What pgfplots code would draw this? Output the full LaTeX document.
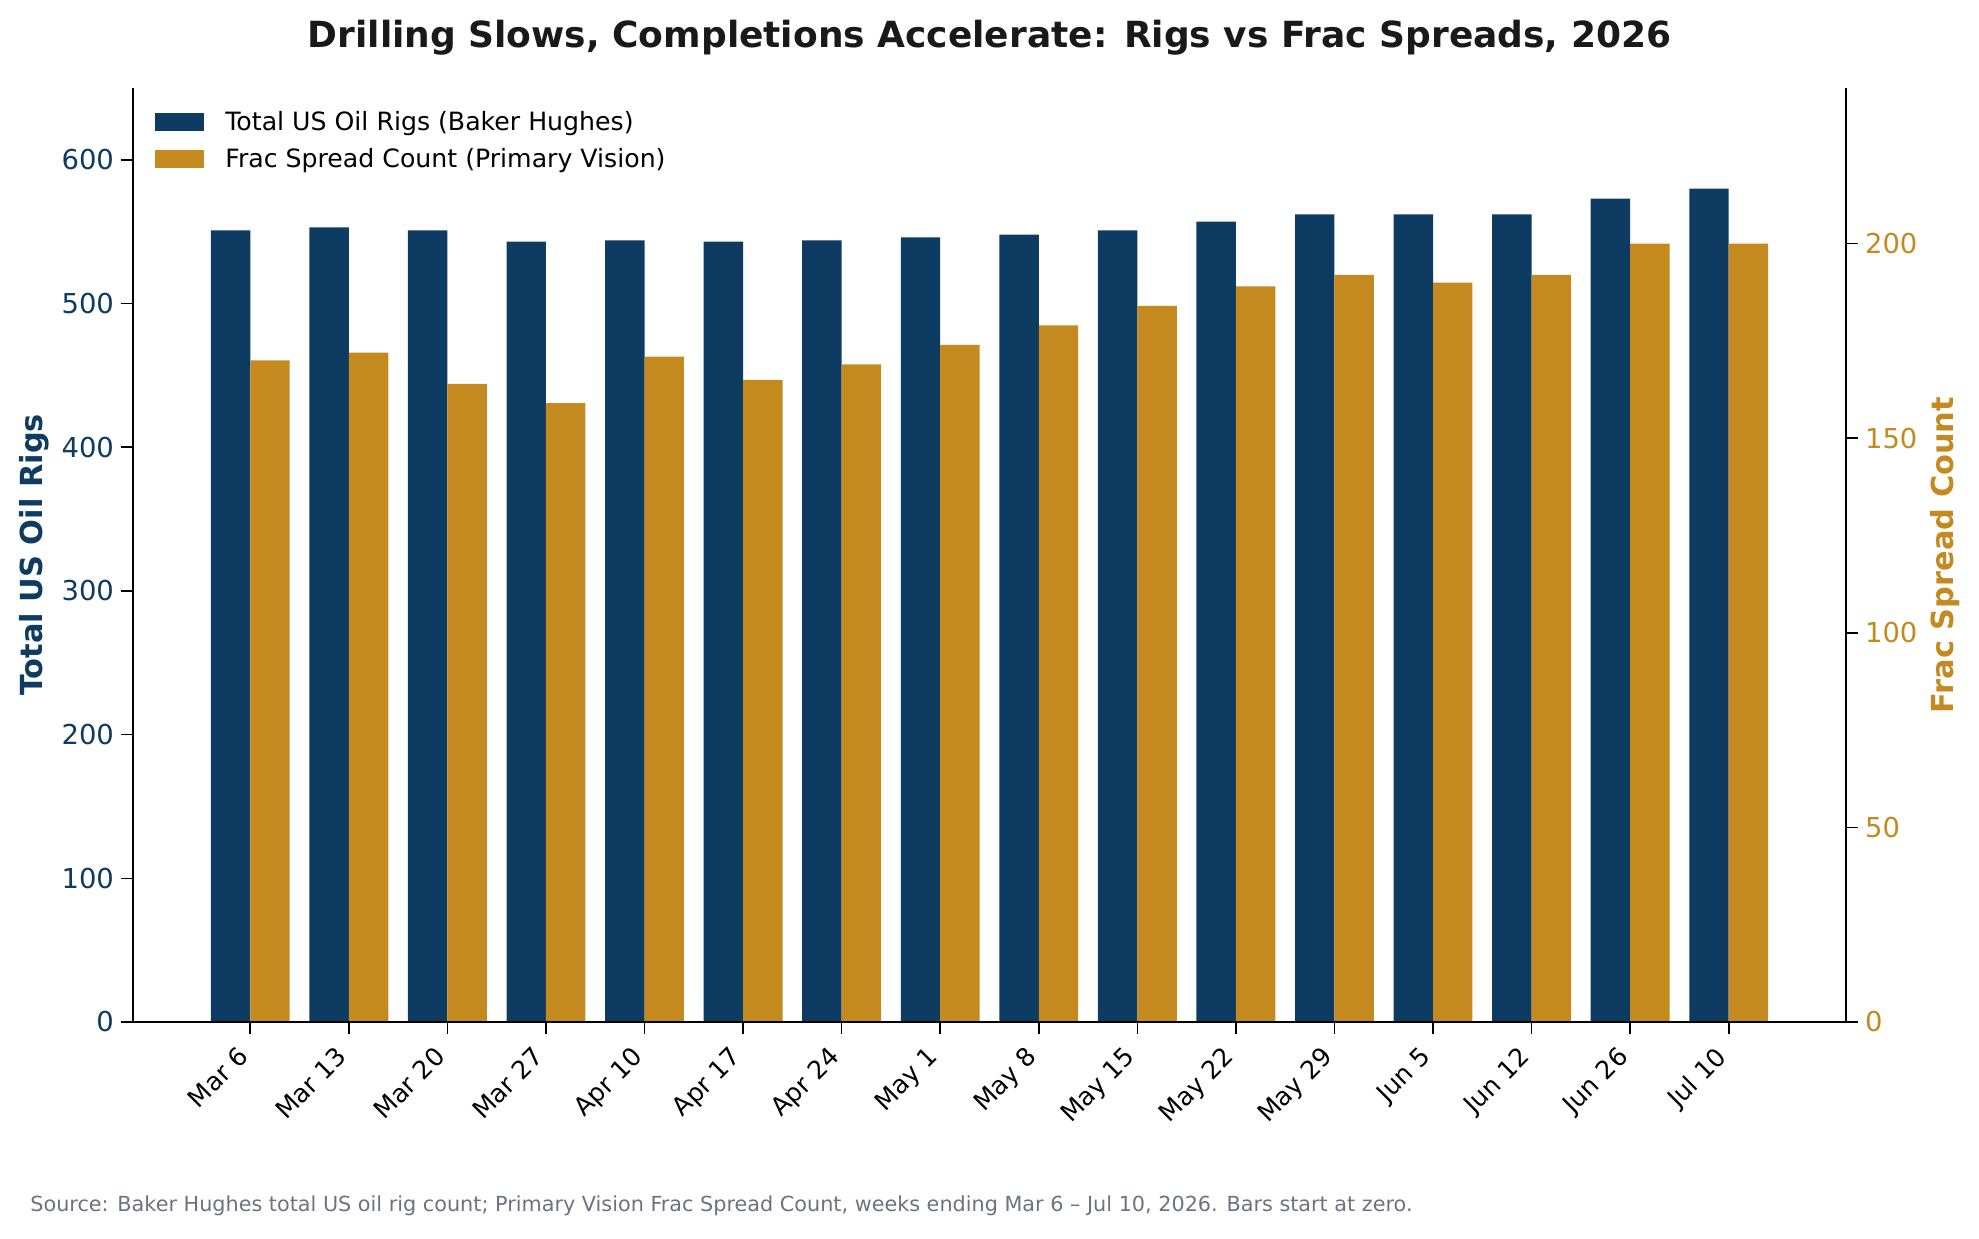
\documentclass[border=0pt]{standalone}
\usepackage{pgfplots}
\pgfplotsset{compat=1.18}
\usepackage{fontspec}
\setmainfont{DejaVu Sans}
\definecolor{navy}{HTML}{0D3B61}
\definecolor{gold}{HTML}{C48A1F}
\definecolor{srcgray}{HTML}{6B7280}
\begin{document}
\begin{tikzpicture}
\path[use as bounding box] (-66.5pt,-108pt) rectangle (923pt,511pt);
\begin{axis}[
  at={(0pt,0pt)}, anchor=south west,
  scale only axis, width=856.5pt, height=467pt,
  xmin=-1.19, xmax=16.19, ymin=0, ymax=650,
  axis on top,
  axis x line*=bottom, axis y line*=left,
  axis line style={line width=0.8pt, black},
  every outer x axis line/.append style={-}, every outer y axis line/.append style={-},
  xtick={0,...,15},
  xticklabels={Mar 6,Mar 13,Mar 20,Mar 27,Apr 10,Apr 17,Apr 24,May 1,May 8,May 15,May 22,May 29,Jun 5,Jun 12,Jun 26,Jul 10},
  xticklabel style={xshift=-7pt, yshift=-4pt, rotate=45, anchor=north east, font=\fontsize{12.6}{14}\selectfont, inner sep=1pt},
  ytick={0,100,...,600},
  yticklabel style={text=navy, font=\fontsize{13.7}{16}\selectfont},
  /pgf/number format/assume math mode=true,
  tick align=outside, major tick length=6pt,
  tick style={line width=0.8pt, black},
  ylabel={\bfseries Total US Oil Rigs},
  ylabel style={text=navy, font=\fontsize{15.2}{18}\selectfont, at={([xshift=-49.5pt]axis description cs:0,0.5)}, anchor=center},
  legend style={at={(axis description cs:0.0128,0.98)}, anchor=north west, draw=none, fill=none,
    font=\fontsize{12.6}{14}\selectfont, row sep=3.5pt, column sep=8.5pt, inner sep=0pt,
    nodes={inner sep=2pt}},
  legend cell align=left,
  legend image code/.code={\fill[#1] (0pt,-4.5pt) rectangle (24.5pt,4.5pt);},
  clip=false,
]
\draw[black!18, line width=1.4pt] (axis cs:-1.19,0) -- (axis cs:16.19,0);
\addplot[ybar, fill=navy, draw=none, bar width=0.4, bar shift=-0.2] coordinates {
(0,551) (1,553) (2,551) (3,543) (4,544) (5,543) (6,544) (7,546)
(8,548) (9,551) (10,557) (11,562) (12,562) (13,562) (14,573) (15,580)};
\addlegendentry{Total US Oil Rigs (Baker Hughes)}
\addlegendimage{fill=gold, draw=none}
\addlegendentry{Frac Spread Count (Primary Vision)}
\end{axis}
\begin{axis}[
  at={(0pt,0pt)}, anchor=south west,
  scale only axis, width=856.5pt, height=467pt,
  xmin=-1.19, xmax=16.19, ymin=0, ymax=240,
  axis on top,
  axis x line=none, axis y line*=right,
  axis line style={line width=0.8pt, black},
  every outer y axis line/.append style={-},
  ytick={0,50,...,200},
  yticklabel style={text=gold, font=\fontsize{13.7}{16}\selectfont},
  /pgf/number format/assume math mode=true,
  tick align=outside, major tick length=6pt,
  tick style={line width=0.8pt, black},
  ylabel={\bfseries Frac Spread Count},
  ylabel style={text=gold, font=\fontsize{15.2}{18}\selectfont, at={([xshift=49.5pt]axis description cs:1,0.5)}, anchor=center},
  clip=false,
]
\addplot[ybar, fill=gold, draw=none, bar width=0.4, bar shift=0.2] coordinates {
(0,170) (1,172) (2,164) (3,159) (4,171) (5,165) (6,169) (7,174)
(8,179) (9,184) (10,189) (11,192) (12,190) (13,192) (14,200) (15,200)};
\draw[black, line width=0.8pt] (axis cs:-1.19,0) -- (axis cs:16.19,0);
\end{axis}
\node[font=\fontsize{18}{22}\selectfont\bfseries, text=black!90] at (428.25pt,492pt) {Drilling Slows, Completions Accelerate: Rigs vs Frac Spreads, 2026};
\node[font=\fontsize{10.38}{12}\selectfont, text=srcgray, anchor=west, inner sep=0pt] at (-51.5pt,-92pt) {Source: Baker Hughes total US oil rig count; Primary Vision Frac Spread Count, weeks ending Mar 6 – Jul 10, 2026. Bars start at zero.};
\end{tikzpicture}
\end{document}
